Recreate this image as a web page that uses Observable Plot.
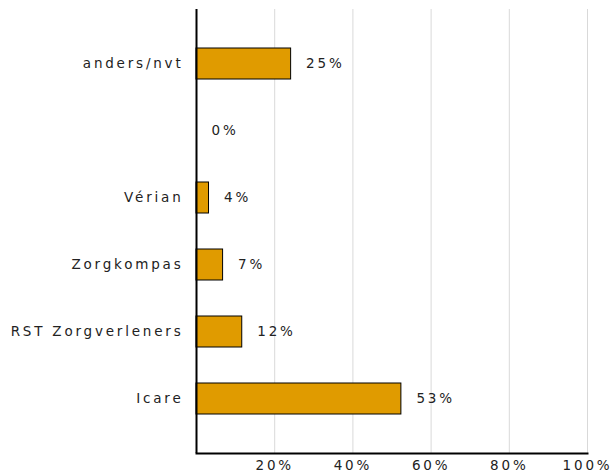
<!DOCTYPE html>
<html><head><meta charset="utf-8">
<script src="https://cdn.jsdelivr.net/npm/d3@7"></script>
<script src="https://cdn.jsdelivr.net/npm/@observablehq/plot@0.6"></script>
<style>body{margin:0;background:#fff}</style>
</head><body><div id="chart"></div>
<script>
const categories = ["anders/nvt", " ", "Vérian", "Zorgkompas", "RST Zorgverleners", "Icare"];
const values = [24.2, 0, 3.2, 6.8, 11.7, 52.4];
const labels = ["25%", "0%", "4%", "7%", "12%", "53%"];
const xTicks = [20, 40, 60, 80, 100];
const data = categories.map((c, i) => ({category: c, value: values[i], label: labels[i]}));
const chart = Plot.plot({
  width: 615, height: 474,
  marginTop: 9, marginBottom: 21, marginLeft: 196, marginRight: 28,
  style: {fontFamily: "DejaVu Sans", fontSize: "13.5px", color: "#222", letterSpacing: "2.8px", background: "#fff"},
  x: {domain: [0, 100], ticks: xTicks, tickFormat: d => d + "%", tickSize: 0, tickPadding: 7, label: null},
  y: {domain: categories, padding: 0.53, tickSize: 0, tickPadding: 13, label: null},
  marks: [
    Plot.gridX(xTicks, {stroke: "#d9d9d9", strokeOpacity: 1}),
    Plot.barX(data, {x: "value", y: "category", fill: "#e09b00", stroke: "#000", strokeWidth: 1}),
    Plot.text(data, {x: "value", y: "category", text: "label", textAnchor: "start", dx: 15, fill: "#222"}),
    Plot.frame({anchor: "bottom", stroke: "#000", strokeWidth: 2}),
    Plot.ruleX([0], {stroke: "#000", strokeWidth: 2})
  ]
});
document.getElementById("chart").appendChild(chart);
</script>
</body></html>
